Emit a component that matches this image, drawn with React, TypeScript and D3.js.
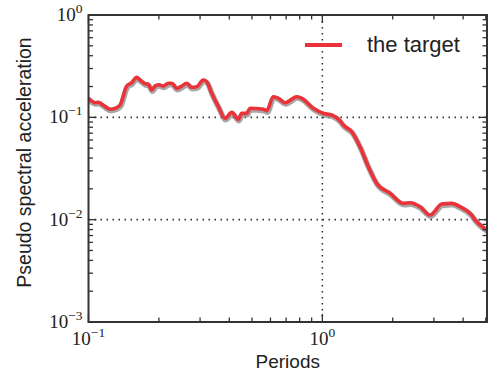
import React from "react";
import * as d3 from "d3";

// Oscillator periods (s) and pseudo spectral acceleration of the target spectrum
const periods = [
  0.1, 0.1066, 0.1101, 0.1153, 0.1236, 0.1298, 0.1364, 0.1457, 0.153, 0.1607,
  0.1661, 0.1733, 0.1803, 0.1864, 0.1925, 0.1989, 0.2089, 0.2194, 0.2269, 0.2384,
  0.2504, 0.263, 0.2763, 0.2903, 0.3097, 0.3202, 0.3365, 0.3592, 0.3836, 0.4098,
  0.4373, 0.4522, 0.475, 0.4907, 0.5593, 0.5784, 0.6171, 0.6483, 0.6925, 0.777,
  0.8165, 0.915, 1.01, 1.097, 1.19, 1.229, 1.336, 1.449, 1.573, 1.709,
  1.949, 2.221, 2.371, 2.618, 2.888, 3.242, 3.577, 3.882, 4.282, 4.574, 5.06,
];
const targetPsa = [
  0.1534, 0.139, 0.14, 0.132, 0.12, 0.1225, 0.132, 0.2023, 0.218, 0.246,
  0.2315, 0.215, 0.2102, 0.185, 0.2023, 0.2083, 0.2023, 0.215, 0.215, 0.192,
  0.2023, 0.215, 0.1965, 0.199, 0.2315, 0.223, 0.1717, 0.127, 0.0978, 0.1119,
  0.0956, 0.1094, 0.1094, 0.1225, 0.1198, 0.116, 0.159, 0.1534, 0.139, 0.159,
  0.1534, 0.1225, 0.1094, 0.1053, 0.0926, 0.0841, 0.0723, 0.0516, 0.0329, 0.0226,
  0.0181, 0.01443, 0.01463, 0.01337, 0.01109, 0.0142, 0.01443, 0.01337, 0.01153, 0.00954, 0.00791,
];

const xDomain = [0.1, 5.06];
const yDomain = [0.001, 1];
const xMajorTicks = [0.1, 1];
const xMajorExponents = ["\u22121", "0"];
const yMajorTicks = [1, 0.1, 0.01, 0.001];
const yMajorExponents = ["0", "\u22121", "\u22122", "\u22123"];
const xMinorTicks = [0.2, 0.3, 0.4, 0.5, 0.6, 0.7, 0.8, 0.9, 2, 3, 4, 5];
const yMinorTicks = [0.002, 0.003, 0.004, 0.005, 0.006, 0.007, 0.008, 0.009,
  0.02, 0.03, 0.04, 0.05, 0.06, 0.07, 0.08, 0.09,
  0.2, 0.3, 0.4, 0.5, 0.6, 0.7, 0.8, 0.9];
const gridX = [1];
const gridY = [0.1, 0.01];
const legendLabel = "the target";
const xLabel = "Periods";
const yLabel = "Pseudo spectral acceleration";

const W = 490;
const H = 374;
const m = { left: 88.5, right: 487, top: 15, bottom: 322 };
const axisColor = "#333333";
const red = "#eb3238";
const sans = "'Liberation Sans', Arial, sans-serif";
const serif = "'Liberation Serif', 'DejaVu Serif', serif";

export default function App() {
  const x = d3.scaleLog().domain(xDomain).range([m.left, m.right]);
  const y = d3.scaleLog().domain(yDomain).range([m.bottom, m.top]);
  const pts = periods.map((p, i) => [p, targetPsa[i]] as [number, number]);
  const line = d3
    .line<[number, number]>()
    .x((d) => x(d[0]))
    .y((d) => y(d[1]))
    .curve(d3.curveMonotoneX);
  const path = line(pts) || "";

  const majorLen = 8;
  const minorLen = 4.5;

  return (
    <div style={{ position: "absolute", left: 0, top: 0 }}>
      <svg width={W} height={H} style={{ display: "block" }}>
        <rect width={W} height={H} fill="#ffffff" />
        <defs>
          <clipPath id="plotArea">
            <rect x={m.left} y={m.top} width={m.right - m.left} height={m.bottom - m.top} />
          </clipPath>
        </defs>

        {/* dotted grid at major decades */}
        {gridX.map((v) => (
          <line key={"gx" + v} x1={x(v)} x2={x(v)} y1={m.top} y2={m.bottom}
            stroke={axisColor} strokeWidth={1.6} strokeDasharray="1.5,4.5" />
        ))}
        {gridY.map((v) => (
          <line key={"gy" + v} x1={m.left} x2={m.right} y1={y(v)} y2={y(v)}
            stroke={axisColor} strokeWidth={1.6} strokeDasharray="1.5,4.5" />
        ))}

        {/* spectrum */}
        <g clipPath="url(#plotArea)">
          <path d={path} fill="none" stroke="#8a8a8a" strokeOpacity={0.75}
            strokeWidth={5.5} transform="translate(0.6,1.4)" strokeLinejoin="round" />
          <path d={path} fill="none" stroke={red} strokeWidth={3.6}
            strokeLinejoin="round" strokeLinecap="round" />
        </g>

        {/* ticks, mirrored on all sides, pointing inward */}
        {xMajorTicks.concat(xMinorTicks).map((v, i) => {
          const len = i < xMajorTicks.length ? majorLen : minorLen;
          return (
            <g key={"xt" + v}>
              <line x1={x(v)} x2={x(v)} y1={m.bottom} y2={m.bottom - len} stroke={axisColor} strokeWidth={1.3} />
              <line x1={x(v)} x2={x(v)} y1={m.top} y2={m.top + len} stroke={axisColor} strokeWidth={1.3} />
            </g>
          );
        })}
        {yMajorTicks.concat(yMinorTicks).map((v, i) => {
          const len = i < yMajorTicks.length ? majorLen : minorLen;
          return (
            <g key={"yt" + v}>
              <line x1={m.left} x2={m.left + len} y1={y(v)} y2={y(v)} stroke={axisColor} strokeWidth={1.3} />
              <line x1={m.right} x2={m.right - len} y1={y(v)} y2={y(v)} stroke={axisColor} strokeWidth={1.3} />
            </g>
          );
        })}

        {/* frame */}
        <rect x={m.left} y={m.top} width={m.right - m.left} height={m.bottom - m.top}
          fill="none" stroke={axisColor} strokeWidth={2} />

        {/* tick labels */}
        {xMajorTicks.map((v, i) => (
          <text key={"xl" + v} x={x(v)} y={m.bottom + 23} textAnchor="middle"
            fontFamily={serif} fontSize={19} fill="#222">
            <tspan>10</tspan>
            <tspan dy={-8} fontSize={13.5}>{xMajorExponents[i]}</tspan>
          </text>
        ))}
        {yMajorTicks.map((v, i) => (
          <text key={"yl" + v} x={m.left - 6} y={y(v) + 6} textAnchor="end"
            fontFamily={serif} fontSize={19} fill="#222">
            <tspan>10</tspan>
            <tspan dy={-8} fontSize={13.5}>{yMajorExponents[i]}</tspan>
          </text>
        ))}

        {/* axis titles */}
        <text x={(m.left + m.right) / 2} y={368} textAnchor="middle"
          fontFamily={sans} fontSize={19} fill="#222">{xLabel}</text>
        <text transform={`translate(31,${(m.top + m.bottom) / 2 - 6}) rotate(-90)`}
          textAnchor="middle" fontFamily={sans} fontSize={19.5} fill="#222">{yLabel}</text>

        {/* legend */}
        <line x1={305} x2={342} y1={45} y2={45} stroke={red} strokeWidth={4} />
        <text x={367} y={52} fontFamily={sans} fontSize={22} fill="#222">{legendLabel}</text>
      </svg>
    </div>
  );
}
